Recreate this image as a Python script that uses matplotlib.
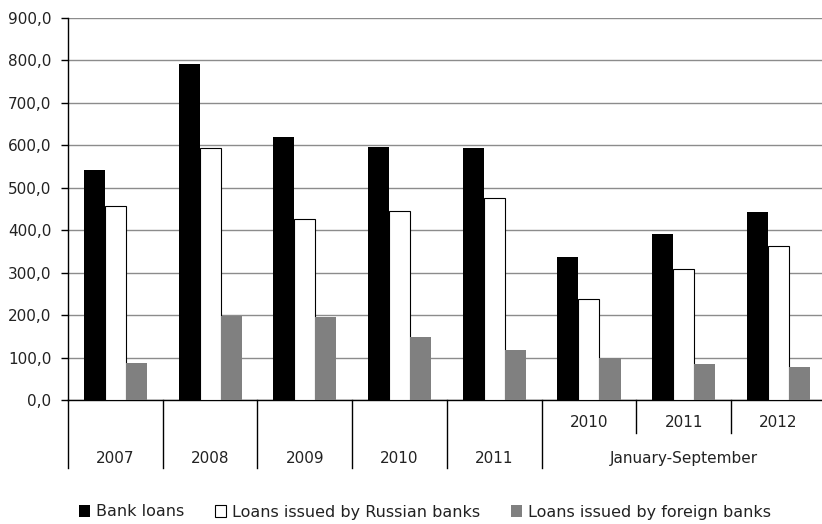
import numpy as np
import matplotlib.pyplot as plt
from matplotlib.patches import Patch
import matplotlib.transforms as mtransforms

plt.rcParams['font.family'] = ['DejaVu Sans']

# data
years = ['2007', '2008', '2009', '2010', '2011', '2010', '2011', '2012']
period_label = 'January-September'
bank_loans = [543, 791, 620, 595, 594, 336, 392, 443]
russian_banks = [457, 594, 426, 445, 475, 238, 308, 364]
foreign_banks = [86, 197, 195, 148, 118, 99, 84, 78]
series_names = ['Bank loans', 'Loans issued by Russian banks', 'Loans issued by foreign banks']

fig = plt.figure(figsize=(8.22, 5.24), dpi=100)
ax = fig.add_axes([68/822, 124/524, 754/822, 382/524])

x = np.arange(len(years))
w = 0.222
ax.bar(x - w, bank_loans, w, color='black', zorder=3)
ax.bar(x, russian_banks, w, color='white', edgecolor='black', linewidth=0.8, zorder=3)
ax.bar(x + w, foreign_banks, w, color='#808080', zorder=3)

ax.set_xlim(-0.5, 7.46)
ax.set_ylim(0, 900)
ax.set_yticks(np.arange(0, 901, 100))
ax.set_yticklabels([f'{v:.1f}'.replace('.', ',') for v in range(0, 901, 100)], fontsize=11)
ax.yaxis.grid(True, color='#8c8c8c', linewidth=1, zorder=0)
ax.tick_params(axis='y', length=5, width=1, direction='out', pad=7, colors='black', labelcolor='#222222')
ax.set_xticks([])
for s in ['top', 'right']:
    ax.spines[s].set_visible(False)
ax.spines['left'].set_linewidth(1)
ax.spines['bottom'].set_linewidth(1)

# two-level category axis
trans = mtransforms.blended_transform_factory(ax.transData, ax.transAxes)
long_y = -0.178
short_y = -0.086
for i in range(len(years)):
    left = i - 0.5
    if i <= 5:
        ax.plot([left, left], [0, long_y], color='black', lw=1, transform=trans, clip_on=False)
    else:
        ax.plot([left, left], [0, short_y], color='black', lw=1, transform=trans, clip_on=False)
for i in range(5):
    ax.text(i, -0.152, years[i], transform=trans, ha='center', va='center', fontsize=11, color='#222222')
for i in range(5, 8):
    ax.text(i, -0.060, years[i], transform=trans, ha='center', va='center', fontsize=11, color='#222222')
ax.text(6, -0.152, period_label, transform=trans, ha='center', va='center', fontsize=11, color='#222222')

handles = [Patch(facecolor='black'),
           Patch(facecolor='white', edgecolor='black', linewidth=0.8),
           Patch(facecolor='#808080')]
leg = fig.legend(handles, series_names, loc='center', bbox_to_anchor=(0.517, 12/524),
                 ncol=3, frameon=False, fontsize=11.5, handlelength=0.7, handleheight=0.7,
                 handletextpad=0.4, columnspacing=1.9)
for t in leg.get_texts():
    t.set_color('#222222')

fig.savefig('out.png', dpi=100)
